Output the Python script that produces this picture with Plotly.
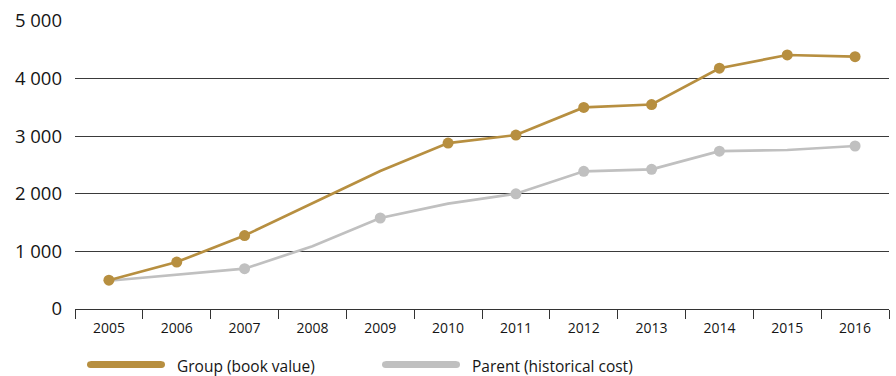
import plotly.graph_objects as go

# Values, in millions
years = ["2005", "2006", "2007", "2008", "2009", "2010",
         "2011", "2012", "2013", "2014", "2015", "2016"]
group_book_value = [500, 815, 1275, 1830, 2395, 2880, 3020, 3500, 3550, 4180, 4410, 4380]
parent_historical_cost = [490, 600, 700, 1090, 1580, 1830, 2000, 2390, 2425, 2740, 2760, 2830]
y_ticks = [0, 1000, 2000, 3000, 4000, 5000]

series_names = ["Group (book value)", "Parent (historical cost)"]

# Styling
GOLD = "#B78F40"
GREY = "#C0C0C0"
TEXT = "#151515"
FONT = "'Open Sans', 'Noto Sans', sans-serif"

# Years that carry a dot marker on each line
group_dot_years = {"2005", "2006", "2007", "2010", "2011", "2012",
                   "2013", "2014", "2015", "2016"}
parent_dot_years = {"2007", "2009", "2011", "2012", "2013", "2014", "2016"}


def dot_sizes(dot_years, size=11):
    return [size if y in dot_years else 0 for y in years]


fig = go.Figure()
fig.add_trace(go.Scatter(
    x=years, y=parent_historical_cost, mode="lines+markers",
    name=series_names[1],
    line=dict(color=GREY, width=2.7),
    marker=dict(color=GREY, size=dot_sizes(parent_dot_years), opacity=1,
                line=dict(width=0)),
    cliponaxis=False, showlegend=False,
))
fig.add_trace(go.Scatter(
    x=years, y=group_book_value, mode="lines+markers",
    name=series_names[0],
    line=dict(color=GOLD, width=2.7),
    marker=dict(color=GOLD, size=dot_sizes(group_dot_years), opacity=1,
                line=dict(width=0)),
    cliponaxis=False, showlegend=False,
))

# Canvas and plot-area geometry (pixels)
W, H = 896, 376
L, R, T, B = 75, 7, 19, 67
pw, ph = W - L - R, H - T - B


def px_to_paper(xp, yp):
    return (xp - L) / pw, (H - B - yp) / ph


# Custom legend: thick bars with rounded ends, labels to the right
legend_items = [
    (87, 165, 175, GOLD, series_names[0]),
    (382, 460, 470, GREY, series_names[1]),
]
LEG_Y = 365
BAR_H = 7
shapes = []
annotations = []
for x0, x1, xt, col, label in legend_items:
    xa, ya = px_to_paper(x0, LEG_Y)
    xb, _ = px_to_paper(x1, LEG_Y)
    r = BAR_H / 2
    shapes.append(dict(
        type="line", xref="paper", yref="paper",
        x0=xa + r / pw, x1=xb - r / pw, y0=ya, y1=ya,
        line=dict(color=col, width=BAR_H), layer="above",
    ))
    for xe in (xa + r / pw, xb - r / pw):
        shapes.append(dict(
            type="circle", xref="paper", yref="paper",
            x0=xe - r / pw, x1=xe + r / pw, y0=ya - r / ph, y1=ya + r / ph,
            fillcolor=col, line=dict(width=0), layer="above",
        ))
    tx, ty = px_to_paper(xt, LEG_Y + 1)
    annotations.append(dict(
        x=tx, y=ty, xref="paper", yref="paper",
        xanchor="left", yanchor="middle",
        text=label, showarrow=False,
        font=dict(family=FONT, size=15.5, color=TEXT),
    ))

fig.update_layout(
    width=W, height=H,
    margin=dict(l=L, r=R, t=T, b=B, pad=0),
    paper_bgcolor="white", plot_bgcolor="white",
    font=dict(family=FONT, color=TEXT),
    separators=". ",
    showlegend=False,
    shapes=shapes,
    annotations=annotations,
    xaxis=dict(
        type="category", categoryorder="array", categoryarray=years,
        range=[-0.5, len(years) - 0.5],
        tickson="boundaries", ticks="outside", ticklen=9, tickwidth=1,
        tickcolor="#333", showline=True, linecolor="#333", linewidth=1,
        showgrid=False, zeroline=False,
        ticklabelstandoff=6,
        tickfont=dict(family=FONT, size=14, color=TEXT),
        fixedrange=True,
    ),
    yaxis=dict(
        range=[0, 5000], tickvals=y_ticks, tickformat=",d",
        separatethousands=True,
        showgrid=True, gridcolor="#3a3a3a", gridwidth=1,
        zeroline=False, showline=False, ticks="",
        ticklabelstandoff=12,
        tickfont=dict(family=FONT, size=18.5, color=TEXT),
        fixedrange=True,
    ),
)

fig.write_html("out.html")
